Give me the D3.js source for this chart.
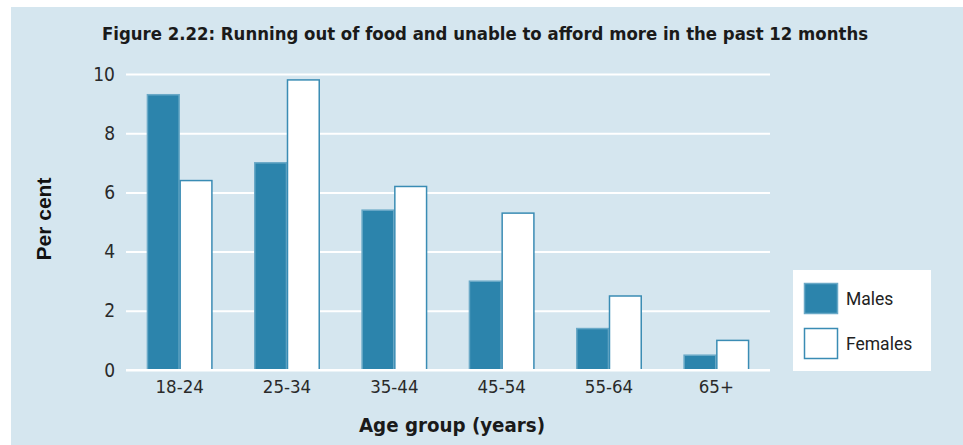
<!DOCTYPE html>
<html><head><meta charset="utf-8">
<script src="https://cdn.jsdelivr.net/npm/d3@7"></script>
<style>html,body{margin:0;padding:0;background:#fff;}svg{display:block;}</style>
</head><body>
<script>
const categories = ["18-24","25-34","35-44","45-54","55-64","65+"];
const males = [9.3, 7.0, 5.4, 3.0, 1.4, 0.5];
const females = [6.4, 9.8, 6.2, 5.3, 2.5, 1.0];
const seriesNames = ["Males","Females"];
const yTicks = [0,2,4,6,8,10];
const title = "Figure 2.22: Running out of food and unable to afford more in the past 12 months";

const W = 963, H = 445;
const svg = d3.select("body").append("svg").attr("width", W).attr("height", H);
svg.append("rect").attr("x", 11).attr("y", 7).attr("width", W - 11).attr("height", H - 7).attr("fill", "#d5e6ef");

const condensed = "'Liberation Sans Narrow', 'DejaVu Sans Condensed', sans-serif";

svg.append("text").attr("x", 485).attr("y", 40).attr("text-anchor", "middle")
  .style("font-family", condensed).style("font-weight", "bold").style("font-size", "18.4px").attr("fill", "#1a1a1a")
  .text(title);

const x = d3.scaleBand().domain(categories).range([126, 770]).paddingInner(0.39).paddingOuter(0.195);
const xs = d3.scaleBand().domain(seriesNames).range([0, x.bandwidth()]);
const y = d3.scaleLinear().domain([0, 10]).range([370, 74]);

// gridlines
const gy = svg.append("g").attr("transform", "translate(126,0)")
  .call(d3.axisLeft(y).tickValues(yTicks).tickSize(-(770 - 126)).tickPadding(11));
gy.select(".domain").remove();
gy.selectAll(".tick line").attr("stroke", "#ffffff").attr("stroke-width", 2);
gy.selectAll(".tick text").style("font-family", condensed).style("font-size", "19px").attr("fill", "#2a2a2a");

const data = categories.map((c, i) => ({c, vals: [{s: "Males", v: males[i]}, {s: "Females", v: females[i]}]}));
const g = svg.append("g");
const groups = g.selectAll("g.grp").data(data).join("g").attr("transform", d => `translate(${x(d.c)},0)`);
groups.selectAll("rect").data(d => d.vals).join("rect")
  .attr("x", d => xs(d.s) + 0.5)
  .attr("y", d => y(d.v))
  .attr("width", xs.bandwidth() - 1)
  .attr("height", d => y(0) - y(d.v))
  .attr("fill", d => d.s === "Males" ? "#2c84ac" : "#ffffff")
  .attr("stroke", d => d.s === "Males" ? "#6aa9c7" : "#3a8cb4")
  .attr("stroke-width", 1.5);

// baseline
svg.append("line").attr("x1", 126).attr("x2", 770).attr("y1", y(0)).attr("y2", y(0)).attr("stroke", "#fff").attr("stroke-width", 2);

const gx = svg.append("g").attr("transform", `translate(0,${y(0)})`)
  .call(d3.axisBottom(x).tickSize(0).tickPadding(10));
gx.select(".domain").remove();
gx.selectAll(".tick text").style("font-family", condensed).style("font-size", "18.5px").attr("fill", "#2a2a2a");

svg.append("text").attr("x", 452).attr("y", 432).attr("text-anchor", "middle")
  .style("font-family", condensed).style("font-weight", "bold").style("font-size", "20.3px").attr("fill", "#1a1a1a")
  .text("Age group (years)");

svg.append("text").attr("transform", "translate(51,219) rotate(-90)").attr("text-anchor", "middle")
  .style("font-family", "'Liberation Sans', Arial, sans-serif").style("font-weight", "bold").style("font-size", "21px").attr("fill", "#111")
  .text("Per cent");

// legend
const lg = svg.append("g");
lg.append("rect").attr("x", 793).attr("y", 270).attr("width", 138).attr("height", 101).attr("fill", "#fff");
const litems = lg.selectAll("g.li").data(seriesNames).join("g").attr("transform", (d, i) => `translate(804,${283 + i * 45})`);
litems.append("rect").attr("x", 0.5).attr("y", 0.5).attr("width", 33).attr("height", 30)
  .attr("fill", d => d === "Males" ? "#2c84ac" : "#fff")
  .attr("stroke", d => d === "Males" ? "#6aa9c7" : "#3a8cb4").attr("stroke-width", 1.5);
litems.append("text").attr("x", 42).attr("y", 16).attr("dy", "0.35em")
  .style("font-family", "Roboto, 'Liberation Sans', sans-serif").style("font-size", "17.5px").attr("fill", "#222")
  .text(d => d);
</script>
</body></html>
